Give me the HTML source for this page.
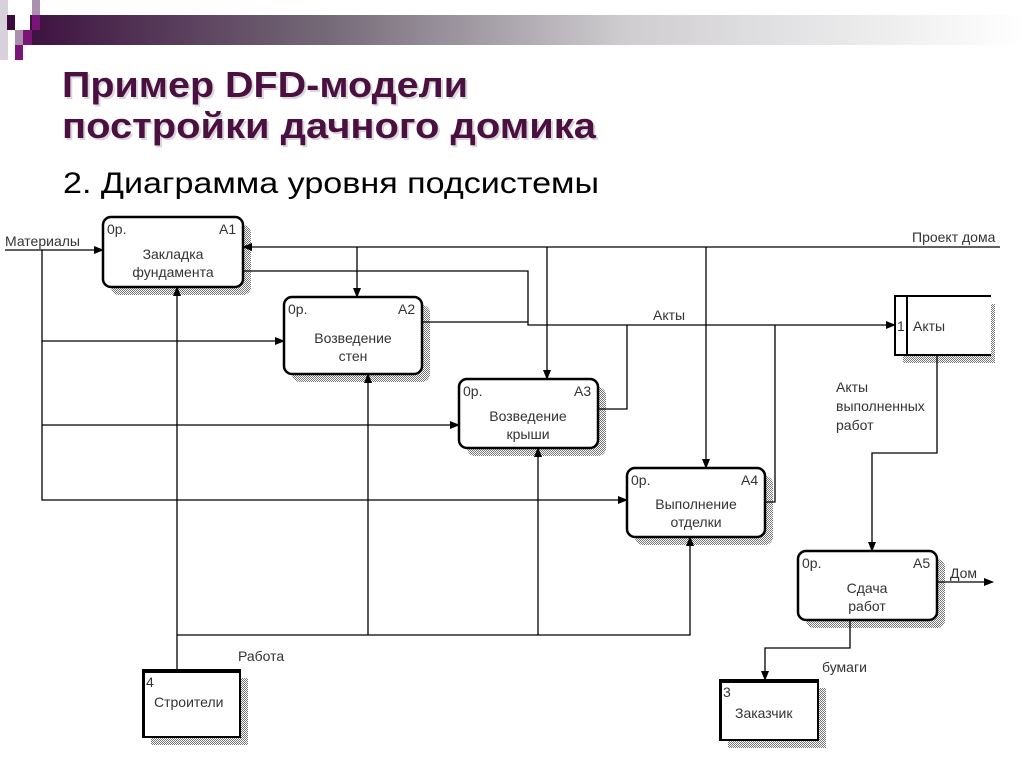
<!DOCTYPE html>
<html><head><meta charset="utf-8"><style>
html,body{margin:0;padding:0;background:#fff;width:1024px;height:768px;overflow:hidden}
svg{display:block}
text{font-family:"Liberation Sans",sans-serif}
</style></head><body>
<svg width="1024" height="768" viewBox="0 0 1024 768" xmlns="http://www.w3.org/2000/svg">
<defs>
<linearGradient id="g" x1="0" x2="1" y1="0" y2="0">
<stop offset="0" stop-color="#3d1240"/><stop offset="0.3" stop-color="#756a78"/><stop offset="0.6" stop-color="#cfcdd0"/><stop offset="1" stop-color="#ffffff"/>
</linearGradient>
<pattern id="h" width="2" height="2" patternUnits="userSpaceOnUse"><rect width="1" height="1" fill="#777"/><rect x="1" y="1" width="1" height="1" fill="#777"/></pattern>
<marker id="a" markerWidth="10" markerHeight="8" refX="9" refY="4" orient="auto" markerUnits="userSpaceOnUse"><path d="M0,0 L10,4 L0,8 z" fill="#000"/></marker>
</defs>
<rect x="30" y="15" width="994" height="30" fill="url(#g)"/>
<rect x="0" y="0" width="8" height="60" fill="#d8d0da"/>
<rect x="32" y="0" width="8" height="15" fill="#a990ac"/>
<rect x="7" y="15" width="8" height="15" fill="#3d0a40"/>
<rect x="32" y="15" width="8" height="15" fill="#7a1478"/>
<rect x="15" y="30" width="8" height="15" fill="#a990ac"/>
<rect x="23" y="30" width="9" height="15" fill="#7a1478"/>
<rect x="15" y="45" width="8" height="15" fill="#7a1478"/>
<g font-weight="bold" font-size="36" fill="#4a1040">
<text x="64" y="99" textLength="406" lengthAdjust="spacingAndGlyphs" fill="#dcd6dc">Пример DFD-модели</text>
<text x="62" y="97" textLength="406" lengthAdjust="spacingAndGlyphs">Пример DFD-модели</text>
<text x="64" y="140" textLength="534" lengthAdjust="spacingAndGlyphs" fill="#dcd6dc">постройки дачного домика</text>
<text x="62" y="138" textLength="534" lengthAdjust="spacingAndGlyphs">постройки дачного домика</text>
</g>
<text x="63" y="193" font-size="30" textLength="536" lengthAdjust="spacingAndGlyphs" fill="#000">2. Диаграмма уровня подсистемы</text>

<g fill="url(#h)">
<rect x="111" y="225" width="140" height="70" rx="8"/>
<rect x="292" y="305" width="138" height="77" rx="8"/>
<rect x="467" y="387" width="139" height="69" rx="8"/>
<rect x="635" y="476" width="138" height="69" rx="8"/>
<rect x="806" y="559" width="139" height="69" rx="8"/>
<rect x="903" y="304" width="92" height="59"/>
<rect x="151" y="678" width="97" height="67"/>
<rect x="728" y="688" width="98" height="60"/>
</g>
<g fill="#fff" stroke="#000" stroke-width="2.5">
<rect x="103" y="217" width="140" height="70" rx="8"/>
<rect x="284" y="297" width="138" height="77" rx="8"/>
<rect x="459" y="379" width="139" height="69" rx="8"/>
<rect x="627" y="468" width="138" height="69" rx="8"/>
<rect x="798" y="551" width="139" height="69" rx="8"/>
</g>
<rect x="895" y="296" width="96" height="59" fill="#fff"/>
<path d="M991,296 H895 V355 H991 M907,296 V355" fill="none" stroke="#000" stroke-width="2"/>
<rect x="143" y="670" width="97" height="67" fill="#fff" stroke="#000" stroke-width="2"/>
<rect x="143" y="669" width="97" height="4" fill="#000"/>
<rect x="142" y="670" width="3" height="67" fill="#000"/>
<rect x="720" y="680" width="98" height="60" fill="#fff" stroke="#000" stroke-width="2"/>
<rect x="720" y="679" width="98" height="4" fill="#000"/>
<rect x="719" y="680" width="3" height="60" fill="#000"/>

<g font-size="14" fill="#333">
<text x="107" y="234">0р.</text><text x="219" y="234">A1</text>
<text x="288" y="314">0р.</text><text x="398" y="314">A2</text>
<text x="463" y="396">0р.</text><text x="574" y="396">A3</text>
<text x="631" y="485">0р.</text><text x="741" y="485">A4</text>
<text x="802" y="568">0р.</text><text x="913" y="568">A5</text>
</g>
<g font-size="14" fill="#333" text-anchor="middle">
<text x="173" y="259">Закладка</text><text x="173" y="277">фундамента</text>
<text x="353" y="343">Возведение</text><text x="353" y="361">стен</text>
<text x="528" y="421">Возведение</text><text x="528" y="439">крыши</text>
<text x="696" y="509">Выполнение</text><text x="696" y="527">отделки</text>
<text x="867" y="593">Сдача</text><text x="867" y="611">работ</text>
</g>
<g font-size="14" fill="#333">
<text x="897" y="331">1</text><text x="913" y="331">Акты</text>
<text x="146" y="687">4</text><text x="154" y="707">Строители</text>
<text x="723" y="697">3</text><text x="735" y="718">Заказчик</text>
<text x="5" y="246">Материалы</text>
<text x="912" y="242">Проект дома</text>
<text x="653" y="320">Акты</text>
<text x="836" y="392">Акты</text><text x="836" y="411">выполненных</text><text x="836" y="430">работ</text>
<text x="950" y="578">Дом</text>
<text x="822" y="672">бумаги</text>
<text x="238" y="661">Работа</text>
</g>

<g fill="none" stroke="#000" stroke-width="1.3">
<path d="M5,250 H103" marker-end="url(#a)"/>
<path d="M42,250 V500 H627" marker-end="url(#a)"/>
<path d="M42,341 H284" marker-end="url(#a)"/>
<path d="M42,425 H459" marker-end="url(#a)"/>
<path d="M1000,247 H243" marker-end="url(#a)"/>
<path d="M357,247 V297" marker-end="url(#a)"/>
<path d="M547,247 V379" marker-end="url(#a)"/>
<path d="M706,247 V468" marker-end="url(#a)"/>
<path d="M243,271 H528 V325 H895" marker-end="url(#a)"/>
<path d="M422,322 H528"/>
<path d="M598,409 H627 V325"/>
<path d="M765,502 H775 V325"/>
<path d="M937,355 V453 H872 V551" marker-end="url(#a)"/>
<path d="M937,582 H993" marker-end="url(#a)"/>
<path d="M850,620 V648 H765 V680" marker-end="url(#a)"/>
<path d="M177,670 V287" marker-end="url(#a)"/>
<path d="M177,635 H690 V537" marker-end="url(#a)"/>
<path d="M368,635 V374" marker-end="url(#a)"/>
<path d="M538,635 V448" marker-end="url(#a)"/>
</g>
</svg>
</body></html>
